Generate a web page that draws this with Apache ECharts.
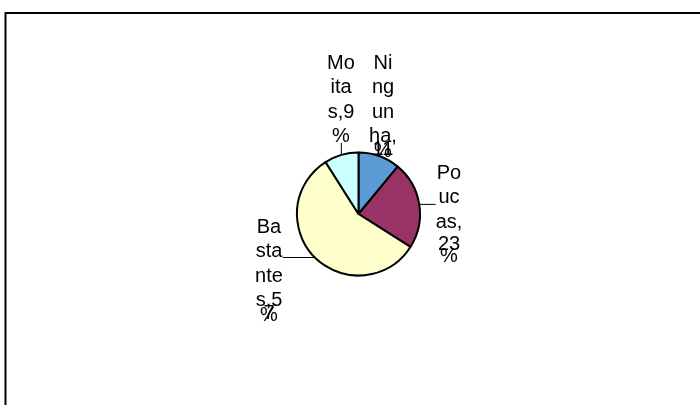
<!DOCTYPE html>
<html>
<head>
<meta charset="utf-8">
<script src="https://cdn.jsdelivr.net/npm/echarts@6/dist/echarts.min.js"></script>
<style>html,body{margin:0;padding:0;background:#fff;}#chart{width:700px;height:405px;}</style>
</head>
<body>
<div id="chart"></div>
<script>
// ---- data ----
var categories = ['Ningunha', 'Poucas', 'Bastantes', 'Moitas'];
var values = [11, 23, 57, 9];
// how each label text wraps (number of characters on each line)
var wrapChunks = [[2, 2, 2, 3, 2, 1], [2, 2, 3, 2, 1], [2, 3, 3, 3, 1, 1], [2, 3, 3, 1]];

// ---- styles / layout ----
var colors = ['#5B9BD5', '#993366', '#FFFFCC', '#CCFFFF'];
var lineStyles = [['a','a','a','a','c','c'], ['a','a','a','b','d'], ['a','a','a','a','c','c'], ['a','a','a','a']];
var labelAnchors = [[383, 50.75], [449, 160.75], [269, 214.75], [341, 50.75]];
var showLine = [false, true, true, true];

function wrap(text, chunks, styles) {
  var out = [], pos = 0;
  for (var i = 0; i < chunks.length; i++) {
    out.push('{' + styles[i] + '|' + text.substr(pos, chunks[i]) + '}');
    pos += chunks[i];
  }
  return out.join('\n');
}

var data = categories.map(function (c, i) {
  return {
    name: c, value: values[i],
    itemStyle: { color: colors[i] },
    labelLine: { show: showLine[i] }
  };
});

var baseText = { fontFamily: 'Liberation Sans, Arial, sans-serif', fontSize: 20, color: '#000', align: 'center' };
function rs(lh) { return Object.assign({}, baseText, { lineHeight: lh }); }

var chart = echarts.init(document.getElementById('chart'), null, { renderer: 'canvas' });
chart.setOption({
  animation: false,
  backgroundColor: '#fff',
  graphic: [{
    type: 'rect', silent: true,
    shape: { x: 5.5, y: 13, width: 800, height: 500 },
    style: { fill: 'none', stroke: '#000', lineWidth: 2 }
  }],
  series: [{
    type: 'pie',
    center: [358.5, 214],
    radius: 61.5,
    startAngle: 90,
    clockwise: true,
    avoidLabelOverlap: false,
    itemStyle: { borderColor: '#000', borderWidth: 2 },
    emphasis: { disabled: true },
    label: {
      show: true,
      position: 'outside',
      align: 'center',
      formatter: function (p) {
        var i = p.dataIndex;
        return wrap(p.name + ',' + p.value + '%', wrapChunks[i], lineStyles[i]);
      },
      rich: { a: rs(24.5), b: rs(20), c: rs(2), d: rs(4) }
    },
    labelLine: { show: true, length: 10, length2: 0, lineStyle: { color: '#000', width: 1 } },
    labelLayout: function (params) {
      var i = params.dataIndex;
      var ax = labelAnchors[i][0], ay = labelAnchors[i][1];
      var res = { x: ax, y: ay, align: 'center', verticalAlign: 'top' };
      var pts = params.labelLinePoints;
      if (pts && pts[0]) {
        var p0 = pts[0], end;
        var hw = params.labelRect.width / 2;
        if (i === 3) end = [p0[0], ay + 92];
        else if (i === 1) end = [ax - hw, p0[1]];
        else if (i === 2) end = [ax + hw, p0[1]];
        else end = p0;
        res.labelLinePoints = [p0, end, end];
      }
      return res;
    },
    data: data
  }]
});
</script>
</body>
</html>
